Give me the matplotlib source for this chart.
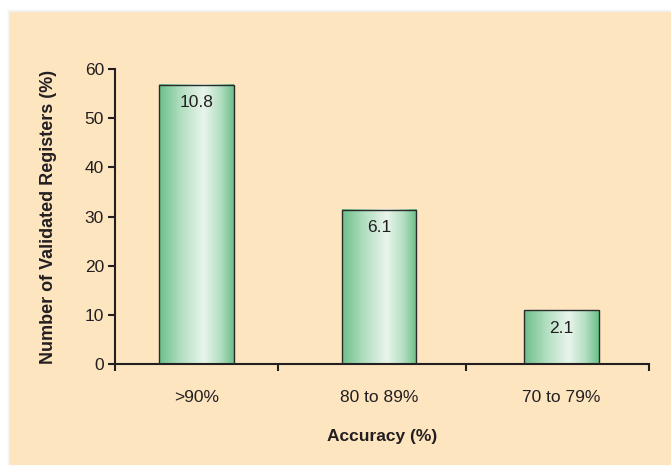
import numpy as np
import matplotlib
matplotlib.use("Agg")
import matplotlib.pyplot as plt
from matplotlib.patches import Rectangle
from matplotlib.colors import LinearSegmentedColormap

# data
categories = [">90%", "80 to 89%", "70 to 79%"]
heights = [56.8, 31.4, 10.9]
bar_labels = ["10.8", "6.1", "2.1"]
y_ticks = [0, 10, 20, 30, 40, 50, 60]

plt.rcParams['font.family'] = ['Liberation Sans', 'DejaVu Sans']
text_color = '#231f20'
panel_color = '#fde5bf'
fs = 12.5

fig = plt.figure(figsize=(6.71, 4.65), dpi=100)
fig.patch.set_facecolor('white')

# beige panel with a faint shadow on the left/top edges
for k, a in enumerate([0.04, 0.06, 0.08]):
    off = (3 - k) / 671
    fig.patches.append(Rectangle((10 / 671 - off, 0), 1, 1 - 12 / 465 + off * 671 / 465,
                                 transform=fig.transFigure, facecolor='#9aa3ad',
                                 alpha=a, edgecolor='none', zorder=-3))
fig.patches.append(Rectangle((10 / 671, 0), 1, 1 - 12 / 465, transform=fig.transFigure,
                             facecolor=panel_color, edgecolor='none', zorder=-2))

ax = fig.add_axes([115 / 671, 1 - 364 / 465, (649 - 115) / 671, (364 - 69) / 465])
ax.set_facecolor('none')

x = np.arange(len(categories))
bar_w = 0.41
bars = ax.bar(x, heights, width=bar_w, color='none', edgecolor='#2b2b2b',
              linewidth=1.0, zorder=3)

# horizontal green gradient inside each bar
cmap = LinearSegmentedColormap.from_list(
    'grn', [(0.0, '#6cbf8a'), (0.3, '#b3dfc1'), (0.6, '#e9f5ec'),
            (0.82, '#b3dfc1'), (1.0, '#6cbf8a')])
grad = np.linspace(0, 1, 256).reshape(1, -1)
for b in bars:
    x0, w, h = b.get_x(), b.get_width(), b.get_height()
    ax.imshow(grad, cmap=cmap, aspect='auto', extent=(x0, x0 + w, 0, h),
              zorder=2, interpolation='bilinear')

for xi, h, lab in zip(x, heights, bar_labels):
    ax.annotate(lab, (xi, h), xytext=(0, -7.5), textcoords='offset points',
                ha='center', va='top', fontsize=fs, color=text_color, zorder=4)

ax.set_xlim(-0.447, 2.479)
ax.set_ylim(0, 60)
ax.set_yticks(y_ticks)
ax.set_xticks([-0.447, 0.447, 1.477, 2.479])
ax.set_xticklabels([])
ax.set_xticks(x, minor=True)
ax.set_xticklabels(categories, minor=True)
ax.tick_params(axis='x', which='minor', length=0, pad=19, labelsize=fs, labelcolor=text_color)
ax.tick_params(axis='x', which='major', length=5, width=1.5, color='#231f20', direction='out')
ax.tick_params(axis='y', length=5, width=1.5, color='#231f20', labelsize=fs,
               labelcolor=text_color, pad=3)

for s in ['top', 'right']:
    ax.spines[s].set_visible(False)
for s in ['left', 'bottom']:
    ax.spines[s].set_linewidth(1.5)
    ax.spines[s].set_color('#231f20')

ax.set_ylabel("Number of Validated Registers (%)", fontsize=13, fontweight='bold',
              color=text_color, labelpad=20)
ax.set_xlabel("Accuracy (%)", fontsize=fs, fontweight='bold', color=text_color, labelpad=17)

fig.savefig("out.png", dpi=100)
